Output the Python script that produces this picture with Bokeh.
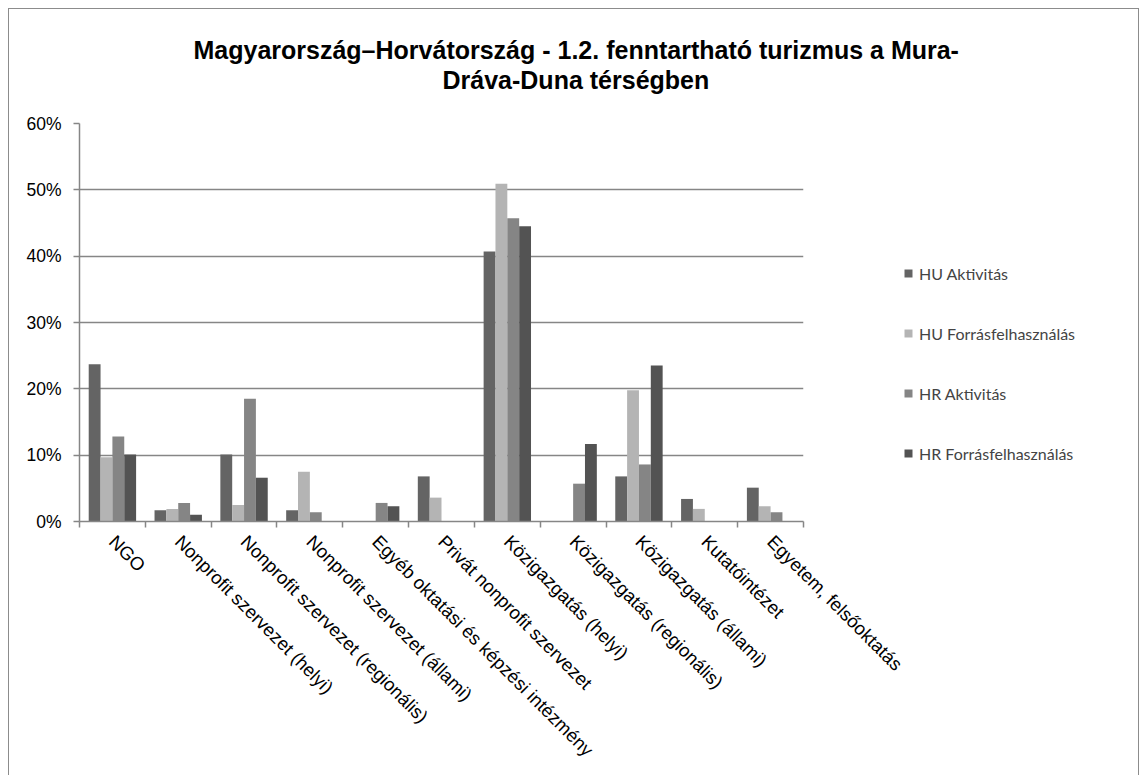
from bokeh.plotting import figure
from bokeh.models import (Range1d, FixedTicker, Legend, LegendItem,
                          NumeralTickFormatter, ColumnDataSource, Title)
from bokeh.embed import file_html
from bokeh.resources import INLINE
import math

categories = ["NGO", "Nonprofit szervezet (helyi)", "Nonprofit szervezet (regionális)",
              "Nonprofit szervezet (állami)", "Egyéb oktatási és képzési intézmény",
              "Privát nonprofit szervezet", "Közigazgatás (helyi)",
              "Közigazgatás (regionális)", "Közigazgatás (állami)", "Kutatóintézet",
              "Egyetem, felsőoktatás"]
series_names = ["HU Aktivitás", "HU Forrásfelhasználás", "HR Aktivitás", "HR Forrásfelhasználás"]
hu_akt = [23.7, 1.7, 10.1, 1.7, 0.0, 6.8, 40.7, 0.0, 6.8, 3.4, 5.1]
hu_forr = [9.7, 1.9, 2.5, 7.5, 0.0, 3.6, 50.9, 0.0, 19.8, 1.9, 2.3]
hr_akt = [12.8, 2.8, 18.5, 1.4, 2.8, 0.0, 45.7, 5.7, 8.6, 0.0, 1.4]
hr_forr = [10.1, 1.0, 6.6, 0.0, 2.3, 0.0, 44.5, 11.7, 23.5, 0.0, 0.0]
colors = ["#646464", "#b4b4b4", "#858585", "#535353"]
title_line1 = "Magyarország–Horvátország - 1.2. fenntartható turizmus a Mura-"
title_line2 = "Dráva-Duna térségben"

n = len(categories)
series = [hu_akt, hu_forr, hr_akt, hr_forr]

p = figure(frame_width=724, frame_height=398, output_backend="svg", toolbar_location=None,
           x_range=Range1d(0, n), y_range=Range1d(0, 0.6),
           min_border_left=79, min_border_right=344, min_border_top=123,
           min_border_bottom=254)
p.outline_line_color = None
p.border_fill_color = None
p.background_fill_color = "#ffffff"
g = "linear-gradient(#8c8c8c,#8c8c8c)"
p.styles = {"background": (g + " 8px 8px / 1px 100% no-repeat, "
                           + g + " 8px 8px / 1131px 1px no-repeat, "
                           + g + " 1138px 8px / 1px 100% no-repeat, #ffffff")}

# title: spacer (closest to frame), then line 2, then line 1
tfont = dict(text_font="Liberation Sans", text_font_size="25px", text_font_style="bold",
             text_color="#000000", align="left", vertical_align="bottom", standoff=0)
spacer = Title(text=" ", text_font_size="1px", standoff=27, text_color="#ffffff")
t2 = Title(text=title_line2, offset=363, **tfont)
t1 = Title(text=title_line1, offset=114, **tfont)
p.add_layout(spacer, "above")
p.add_layout(t2, "above")
p.add_layout(t1, "above")

bar_w = 0.18
offsets = [-0.27, -0.09, 0.09, 0.27]
renderers = []
for name, vals, col, off in zip(series_names, series, colors, offsets):
    src = ColumnDataSource(dict(x=[i + 0.5 + off for i in range(n)],
                                top=[v / 100.0 for v in vals]))
    r = p.vbar(x="x", top="top", width=bar_w, source=src, fill_color=col,
               line_color=None)
    renderers.append((name, r))

# axes
xa = p.xaxis[0]
xa.ticker = FixedTicker(ticks=[i + 0.5 for i in range(n)], minor_ticks=list(range(n + 1)))
xa.major_label_overrides = {i + 0.5: c for i, c in enumerate(categories)}
xa.major_label_orientation = -math.pi / 4
xa.major_tick_out = 0
xa.major_tick_in = 0
xa.minor_tick_out = 6
xa.minor_tick_in = 0
xa.minor_tick_line_color = "#868686"
xa.minor_tick_line_width = 1.5
xa.axis_line_color = "#868686"
xa.axis_line_width = 1.5
xa.major_label_text_font = "Liberation Sans"
xa.major_label_text_font_size = "18.5px"
xa.major_label_text_color = "#000000"
xa.major_label_standoff = 11

ya = p.yaxis[0]
ya.ticker = FixedTicker(ticks=[0, 0.1, 0.2, 0.3, 0.4, 0.5, 0.6])
ya.formatter = NumeralTickFormatter(format="0%")
ya.minor_tick_line_color = None
ya.major_tick_out = 6
ya.major_tick_in = 0
ya.major_tick_line_color = "#868686"
ya.major_tick_line_width = 1.5
ya.axis_line_color = "#868686"
ya.axis_line_width = 1.5
ya.major_label_text_font = "Liberation Sans"
ya.major_label_text_font_size = "17.5px"
ya.major_label_text_color = "#000000"
ya.major_label_standoff = 12

p.xgrid.grid_line_color = None
p.ygrid.ticker = FixedTicker(ticks=[0.1, 0.2, 0.3, 0.4, 0.5, 0.6])
p.ygrid.grid_line_color = "#868686"
p.ygrid.grid_line_width = 1.5

legend = Legend(items=[LegendItem(label=nm, renderers=[r]) for nm, r in renderers],
                location=(100, 58), border_line_color=None, background_fill_alpha=0,
                glyph_width=10, glyph_height=10, label_standoff=6, spacing=40,
                label_text_font="Lato", label_text_font_size="16px",
                label_height=20, padding=0, margin=0)
p.add_layout(legend, "right")

open("out.html", "w").write(file_html(p, INLINE))
